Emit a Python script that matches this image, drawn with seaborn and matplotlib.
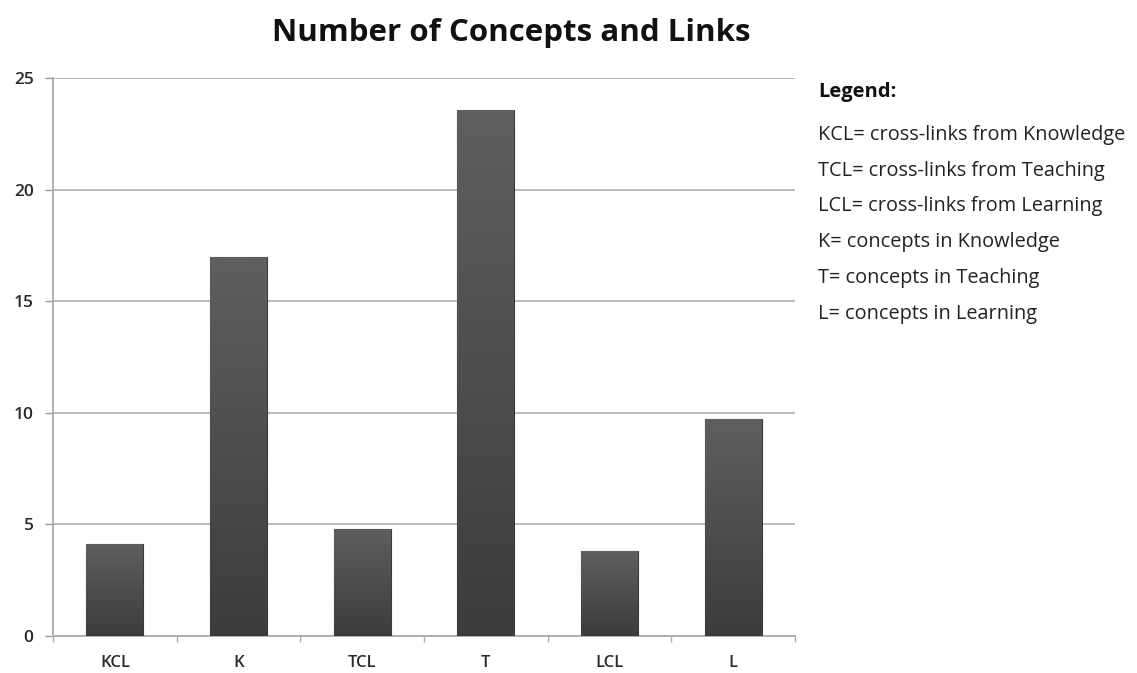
import numpy as np
import pandas as pd
import matplotlib
matplotlib.use("Agg")
import matplotlib.pyplot as plt
import seaborn as sns

categories = ["KCL", "K", "TCL", "T", "LCL", "L"]
values = [4.13, 16.97, 4.8, 23.56, 3.81, 9.74]
yticks = [0, 5, 10, 15, 20, 25]
title = "Number of Concepts and Links"
legend_title = "Legend:"
legend_lines = [
    "KCL= cross-links from Knowledge",
    "TCL= cross-links from Teaching",
    "LCL= cross-links from Learning",
    "K= concepts in Knowledge",
    "T= concepts in Teaching",
    "L= concepts in Learning",
]

sns.set_theme(style="white")
plt.rcParams["font.family"] = ["Open Sans", "DejaVu Sans"]

W, H = 1137, 673
fig = plt.figure(figsize=(W / 100, H / 100), dpi=100)
ax = fig.add_axes([53 / W, 1 - 636 / H, (795 - 53) / W, (636 - 78) / H])

df = pd.DataFrame({"cat": categories, "val": values})
sns.barplot(data=df, x="cat", y="val", color="#4d4d4d", width=0.46,
            saturation=1, ax=ax, edgecolor="#3a3a3a", linewidth=0.8, zorder=3)

# vertical gradient on bars
grad = np.linspace(0, 1, 256).reshape(-1, 1)
cmap = matplotlib.colors.LinearSegmentedColormap.from_list("g", ["#3c3c3c", "#5f5f5f"])
for p in ax.patches:
    x0, y0 = p.get_x(), p.get_y()
    w, h = p.get_width(), p.get_height()
    im = ax.imshow(grad, extent=[x0, x0 + w, y0, y0 + h], origin="lower",
                   cmap=cmap, aspect="auto", zorder=3.5)
    im.set_clip_path(p)

ax.set_xlim(-0.5, len(categories) - 0.5)
ax.set_ylim(0, 25)
ax.set_yticks(yticks)
ax.set_yticklabels([str(t) for t in yticks], fontsize=12.5, color="#2a2a2a", fontweight="semibold")
ax.set_xticks(range(len(categories)))
ax.set_xticklabels(categories, fontsize=12, color="#2a2a2a", fontweight="semibold")
ax.tick_params(axis="x", length=0, pad=14)
ax.tick_params(axis="y", length=6, color="#999999", width=1, pad=8, direction="out", left=True)
# category boundary ticks on x axis
ax.set_xticks(np.arange(-0.5, len(categories) + 0.5, 1), minor=True)
ax.tick_params(axis="x", which="minor", length=4, color="#aaaaaa", width=1, direction="out", bottom=True)
ax.set_xlabel("")
ax.set_ylabel("")
ax.yaxis.grid(True, color="#b5b5b5", linewidth=1.3, zorder=0)
ax.set_axisbelow(True)
for s in ["top", "right"]:
    ax.spines[s].set_visible(False)
for s in ["left", "bottom"]:
    ax.spines[s].set_color("#aaaaaa")
    ax.spines[s].set_linewidth(1.3)

fig.text(511 / W, 1 - 33 / H, title, ha="center", va="center",
         fontsize=22.5, fontweight="bold", color="#111111")
fig.text(818 / W, 1 - 92 / H, legend_title, ha="left", va="center",
         fontsize=14.5, fontweight="bold", color="#111111")
for i, line in enumerate(legend_lines):
    fig.text(818 / W, 1 - (135 + i * 35.7) / H, line, ha="left", va="center",
             fontsize=14.3, color="#222222")

fig.savefig("out.png", dpi=100)
